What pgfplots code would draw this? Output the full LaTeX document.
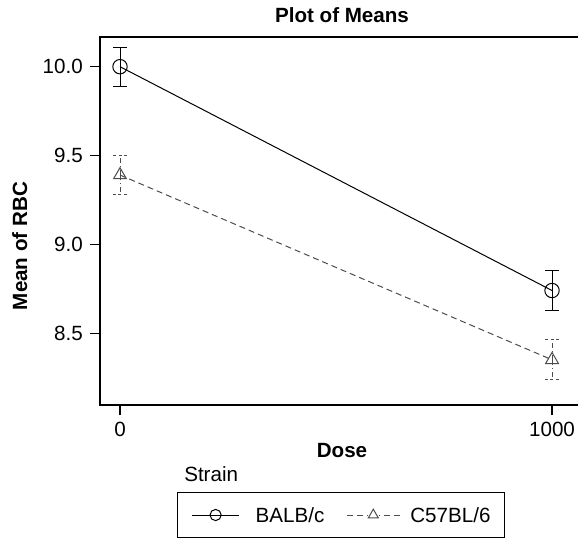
\documentclass[border=0pt]{standalone}
\usepackage{fontspec}
\setmainfont{Liberation Sans}
\usepackage{pgfplots}
\pgfplotsset{compat=1.18}

\definecolor{strainB}{gray}{0.30}

% Means of RBC by dose, with standard-error half widths
\pgfplotstableread{
dose  mean   err
0     10.00  0.110
1000  8.74   0.115
}\balbc
\pgfplotstableread{
dose  mean   err
0     9.39   0.110
1000  8.35   0.113
}\cfiftyseven

\begin{document}
\fontsize{10.3}{12.4}\selectfont
\begin{tikzpicture}
\begin{axis}[
  at={(50pt,66.5pt)}, anchor=south west,
  scale only axis, width=242pt, height=184pt,
  xmin=-46.3, xmax=1074, ymin=8.0955, ymax=10.167,
  clip=false,
  xtick={0,1000}, ytick={8.5,9,9.5,10},
  /pgf/number format/assume math mode=true,
  yticklabel style={/pgf/number format/.cd, fixed, fixed zerofill, precision=1},
  xticklabel style={/pgf/number format/1000 sep={}},
  tick pos=left, tick align=outside, major tick length=5pt,
  tick style={black, line width=0.6pt},
  axis line style={line width=0.6pt},
  title={Plot of Means},
  title style={at={(axis description cs:0.5,1)}, anchor=base, yshift=1.5pt, font=\bfseries},
  xlabel={Dose},
  xlabel style={at={(axis description cs:0.5,0)}, anchor=base, yshift=-26pt, font=\bfseries},
  ylabel={Mean of RBC},
  ylabel style={at={(axis description cs:-0.1508,0.432)}, anchor=base, font=\bfseries},
  legend columns=2,
  legend style={at={(axis description cs:0.1591,-0.2364)}, anchor=north west,
    draw=black, line width=0.6pt, inner xsep=7pt, inner ysep=7.5pt,
    nodes={inner sep=0pt, text height=7.4pt, text depth=0pt},
    /tikz/column 1/.style={column sep=8pt},
    /tikz/column 2/.style={column sep=11pt},
    /tikz/column 3/.style={column sep=5pt},
    /tikz/column 4/.style={column sep=8.5pt}},
]
\addplot[black, line width=0.5pt, mark=o, mark size=3.6pt,
  mark options={solid, fill=none},
  legend image code/.code={
    \draw[black, line width=0.5pt] (0pt,0pt) -- (23.5pt,0pt);
    \draw[black, line width=0.5pt] (11.75pt,0pt) circle[radius=2.8pt];},
  error bars/.cd, y dir=both, y explicit,
  error bar style={black, line width=0.5pt, solid},
  error mark options={rotate=90, mark size=3.5pt, line width=0.5pt, solid},
] table[x=dose, y=mean, y error=err] {\balbc};
\addlegendentry{BALB/c}

\addplot[strainB, line width=0.5pt, dash pattern=on 3pt off 2pt,
  mark=triangle, mark size=3.7pt, mark options={solid, fill=none},
  legend image code/.code={
    \draw[strainB, line width=0.5pt, dash pattern=on 3pt off 2pt] (0pt,0pt) -- (10.5pt,0pt);
    \draw[strainB, line width=0.5pt, dash pattern=on 3pt off 2pt] (26.5pt,0pt) -- (16pt,0pt);
    \draw[strainB, line width=0.5pt, solid] (13.25pt,2.9pt) -- (10.75pt,-1.45pt) -- (15.75pt,-1.45pt) -- cycle;},
  error bars/.cd, y dir=both, y explicit,
  error bar style={strainB, line width=0.5pt, dash pattern=on 2.5pt off 1.5pt on 0.6pt off 1.5pt},
  error mark options={rotate=90, mark size=3.5pt, line width=0.5pt, dash pattern=on 1.6pt off 1.2pt},
] table[x=dose, y=mean, y error=err] {\cfiftyseven};
\addlegendentry{C57BL/6}

\node[anchor=base west] at (axis description cs:0.1591,-0.2092) {Strain};
\end{axis}
% the page stops at the right before the frame's right edge
\pgfresetboundingbox
\path[use as bounding box] (0pt,0pt) rectangle (289pt,269pt);
\end{tikzpicture}
\end{document}
